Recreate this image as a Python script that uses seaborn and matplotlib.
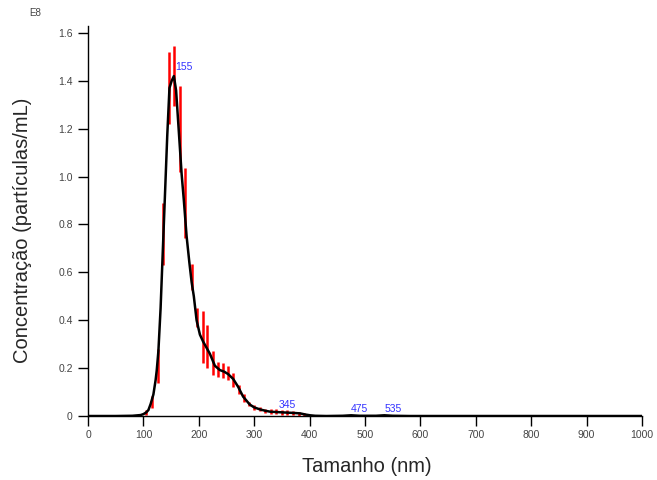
import matplotlib
matplotlib.use("Agg")
import matplotlib.pyplot as plt
import seaborn as sns
import pandas as pd
import numpy as np

# Size distribution curve (nm, concentration in units of 1E8 particles/mL)
size_nm = [0, 50, 80, 95, 100, 105, 109, 113, 118, 122, 124, 127, 129, 131, 136, 141, 143, 147, 151,
           155, 159, 163, 169, 173, 178, 183, 187, 191, 196, 202, 208, 214, 220, 229, 238, 246, 253,
           262, 271, 280, 292, 300, 310, 320, 329, 345, 352, 370, 383, 393, 401, 410, 430, 460, 475,
           490, 520, 535, 550, 580, 1000]
concentration = [0, 0, 0.001, 0.004, 0.008, 0.015, 0.025, 0.05, 0.09, 0.15, 0.19, 0.27, 0.36, 0.45,
                 0.75, 1.05, 1.17, 1.37, 1.40, 1.42, 1.36, 1.22, 1.01, 0.90, 0.75, 0.64, 0.56, 0.50,
                 0.40, 0.34, 0.31, 0.285, 0.26, 0.21, 0.192, 0.185, 0.175, 0.155, 0.122, 0.081, 0.048,
                 0.036, 0.028, 0.022, 0.018, 0.016, 0.015, 0.013, 0.011, 0.006, 0.003, 0.001, 0, 0.001,
                 0.003, 0.001, 0.001, 0.003, 0.001, 0, 0]

# Error bars (position, mean, +/- error)
err_x = [105, 115, 127, 135, 147, 155, 166, 175, 187, 196, 207, 215, 226, 235, 244, 253, 262, 272,
         281, 290, 300, 310, 320, 330, 340, 350, 360, 370, 380, 390]
err_mean = [0.015, 0.06, 0.21, 0.76, 1.37, 1.42, 1.20, 0.89, 0.58, 0.41, 0.33, 0.29, 0.22, 0.195,
            0.19, 0.18, 0.15, 0.11, 0.075, 0.05, 0.035, 0.028, 0.022, 0.02, 0.018, 0.016, 0.015,
            0.013, 0.01, 0.006]
err_sd = [0.01, 0.025, 0.07, 0.13, 0.15, 0.125, 0.18, 0.145, 0.055, 0.04, 0.11, 0.09, 0.05, 0.03,
          0.03, 0.03, 0.03, 0.02, 0.015, 0.01, 0.01, 0.008, 0.008, 0.01, 0.01, 0.01, 0.01, 0.01,
          0.008, 0.005]

# Peak annotations
peak_pos = [155, 345, 475, 535]
peak_lbl = ["155", "345", "475", "535"]
peak_y = [1.42, 0.016, 0.003, 0.003]

x_ticks = [0, 100, 200, 300, 400, 500, 600, 700, 800, 900, 1000]
y_ticks = [0, 0.2, 0.4, 0.6, 0.8, 1.0, 1.2, 1.4, 1.6]
y_tick_labels = ["0", "0.2", "0.4", "0.6", "0.8", "1.0", "1.2", "1.4", "1.6"]

sns.set_style("ticks")
plt.rcParams["font.family"] = ["Liberation Sans", "DejaVu Sans"]

fig = plt.figure(figsize=(6.57, 4.8), dpi=100)
ax = fig.add_axes([0.134, 0.1333, 0.843, 0.798])

df = pd.DataFrame({"size": size_nm, "conc": concentration})

ax.vlines(err_x, np.array(err_mean) - np.array(err_sd), np.array(err_mean) + np.array(err_sd),
          color="#ff0000", lw=1.8, zorder=2)
sns.lineplot(data=df, x="size", y="conc", color="black", lw=1.8, ax=ax, zorder=3)

offsets = {"155": (3, 0.015), "345": (0, 0.008), "475": (0, 0.004), "535": (0, 0.006)}
for p, lbl, yv in zip(peak_pos, peak_lbl, peak_y):
    dx, dy = offsets[lbl]
    ax.text(p + dx, yv + dy, lbl, color="#3333ff", fontsize=7.5, ha="left", va="bottom", zorder=4)

ax.set_xlim(0, 1000)
ax.set_ylim(0, 1.6)
ax.set_xticks(x_ticks)
ax.set_yticks(y_ticks)
ax.set_yticklabels(y_tick_labels)
ax.tick_params(axis="both", labelsize=7.5, labelcolor="#444444", length=7, width=1, color="black",
               direction="out")
ax.tick_params(axis="x", pad=3)
ax.tick_params(axis="y", pad=4)
for s in ["top", "right"]:
    ax.spines[s].set_visible(False)
for s in ["left", "bottom"]:
    ax.spines[s].set_color("black")
    ax.spines[s].set_linewidth(1)
ax.spines["left"].set_bounds(0, 1.63)
ax.margins(0)

ax.set_xlabel("Tamanho (nm)", fontsize=14.5)
ax.set_ylabel("Concentração (partículas/mL)", fontsize=14.5)
ax.xaxis.set_label_coords(0.504, -0.107)
ax.yaxis.set_label_coords(-0.101, 0.486)
fig.text(35 / 657, 1 - 13 / 480, "E8", fontsize=7, color="#444444", ha="center", va="center")

fig.savefig("out.png", dpi=100)
